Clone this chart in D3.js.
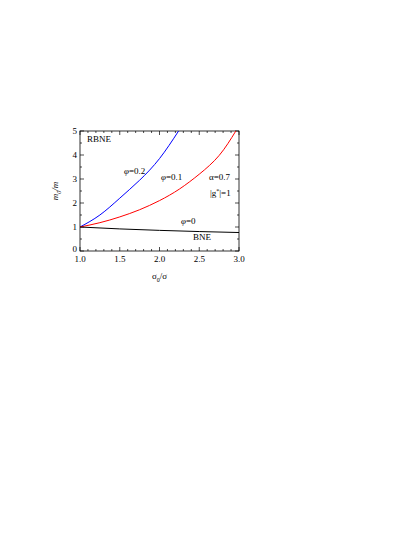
<!DOCTYPE html>
<html><head><meta charset="utf-8">
<script src="https://cdn.jsdelivr.net/npm/d3@7"></script>
<style>body{margin:0;background:#fff}text{font-family:"Liberation Serif","Times New Roman",serif;font-size:9px}</style>
</head><body>
<svg id="c" width="415" height="537"></svg>
<script>
const xTicks = [1.0, 1.5, 2.0, 2.5, 3.0];
const yTicks = [0, 1, 2, 3, 4, 5];
const phi02 = [[1.0,1],[1.25,1.5],[1.5,2.2],[1.75,2.95],[2.0,3.85],[2.24,5]];
const phi01 = [[1.0,1],[1.25,1.18],[1.5,1.42],[1.75,1.72],[2.0,2.1],[2.25,2.58],[2.5,3.2],[2.75,3.98],[2.96,5]];
const phi0 = [[1.0,1],[1.5,0.92],[2.0,0.86],[2.5,0.81],[3.0,0.77]];

const svg = d3.select("#c");
const L = 80, R = 239, T = 131, B = 251;
const x = d3.scaleLinear().domain([1, 3]).range([L, R]);
const y = d3.scaleLinear().domain([0, 5]).range([B, T]);

svg.append("rect").attr("x", L).attr("y", T).attr("width", R - L).attr("height", B - T)
  .attr("fill", "none").attr("stroke", "#000").attr("stroke-width", 0.8);

// ticks inward, with minors
const xMinor = d3.range(1.1, 3, 0.1).filter(v => Math.abs(v * 2 - Math.round(v * 2)) > 0.01);
const yMinor = d3.range(0.5, 5, 1);
const g = svg.append("g").attr("stroke", "#000").attr("stroke-width", 0.7);
xTicks.forEach(v => { g.append("line").attr("x1", x(v)).attr("x2", x(v)).attr("y1", B).attr("y2", B - 4);
  g.append("line").attr("x1", x(v)).attr("x2", x(v)).attr("y1", T).attr("y2", T + 4); });
xMinor.forEach(v => { g.append("line").attr("x1", x(v)).attr("x2", x(v)).attr("y1", B).attr("y2", B - 2);
  g.append("line").attr("x1", x(v)).attr("x2", x(v)).attr("y1", T).attr("y2", T + 2); });
yTicks.forEach(v => { g.append("line").attr("x1", L).attr("x2", L + 4).attr("y1", y(v)).attr("y2", y(v));
  g.append("line").attr("x1", R).attr("x2", R - 4).attr("y1", y(v)).attr("y2", y(v)); });
yMinor.forEach(v => { g.append("line").attr("x1", L).attr("x2", L + 2).attr("y1", y(v)).attr("y2", y(v));
  g.append("line").attr("x1", R).attr("x2", R - 2).attr("y1", y(v)).attr("y2", y(v)); });

svg.selectAll(".xt").data(xTicks).join("text").attr("x", d => x(d)).attr("y", B + 11)
  .attr("text-anchor", "middle").text(d => d.toFixed(1));
svg.selectAll(".yt").data(yTicks).join("text").attr("x", L - 3).attr("y", d => y(d) + (d === 0 ? 1 : 3))
  .attr("text-anchor", "end").text(d => d);

svg.append("text").attr("x", (L + R) / 2).attr("y", B + 28).attr("text-anchor", "middle")
  .html('σ<tspan baseline-shift="sub" font-size="6">0</tspan>/σ');
svg.append("text").attr("transform", `translate(${L - 22},${(T + B) / 2}) rotate(-90)`)
  .attr("text-anchor", "middle").attr("font-style", "italic")
  .html('m<tspan baseline-shift="sub" font-size="6">0</tspan>/m');

const line = d3.line().x(d => x(d[0])).y(d => y(d[1])).curve(d3.curveNatural);
[[phi02, "#0000ff"], [phi01, "#ff0000"], [phi0, "#000"]].forEach(([d, c]) =>
  svg.append("path").attr("d", line(d)).attr("fill", "none").attr("stroke", c).attr("stroke-width", 1));

const labels = [
  [87, 142, "RBNE"], [124, 174, "<tspan font-style='italic'>φ</tspan>=0.2"],
  [161, 180, "<tspan font-style='italic'>φ</tspan>=0.1"], [209, 180, "α=0.7"],
  [210, 196, "|g<tspan baseline-shift='super' font-size='6'>*</tspan>|=1"],
  [181, 224, "<tspan font-style='italic'>φ</tspan>=0"], [193, 240, "BNE"]
];
labels.forEach(([lx, ly, t]) => svg.append("text").attr("x", lx).attr("y", ly).html(t));
</script>
</body></html>
